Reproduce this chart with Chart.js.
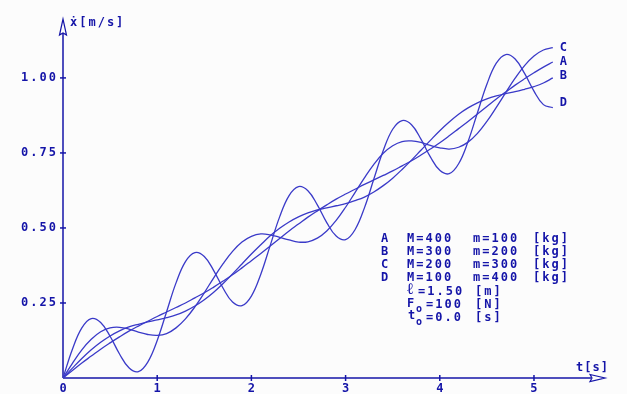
<!DOCTYPE html>
<html>
<head>
<meta charset="utf-8">
<script src="https://cdn.jsdelivr.net/npm/chart.js@4.4.1/dist/chart.umd.min.js"></script>
<style>
  html, body { margin: 0; padding: 0; background: #fcfcfc; }
  #wrap { width: 627px; height: 394px; }
</style>
</head>
<body>
<div id="wrap"><canvas id="chart" width="627" height="394"></canvas></div>
<script>
// time samples [s]
const tVals = [0,0.1,0.2,0.3,0.4,0.5,0.6,0.7,0.8,0.9,1.0,1.1,1.2,1.3,1.4,1.5,1.6,1.7,1.8,1.9,
  2.0,2.1,2.2,2.3,2.4,2.5,2.6,2.7,2.8,2.9,3.0,3.1,3.2,3.3,3.4,3.5,3.6,3.7,3.8,3.9,
  4.0,4.1,4.2,4.3,4.4,4.5,4.6,4.7,4.8,4.9,5.0,5.1,5.2];

// velocity of the cart [m/s], one list per case
const seriesA = [0,0.025,0.050,0.073,0.096,0.117,0.137,0.156,0.173,0.189,0.205,0.220,0.235,0.250,0.267,0.284,0.303,0.323,0.344,0.367,
  0.391,0.415,0.440,0.465,0.490,0.513,0.536,0.557,0.577,0.596,0.613,0.629,0.645,0.660,0.675,0.690,0.707,0.724,0.743,0.763,
  0.784,0.807,0.831,0.855,0.880,0.905,0.930,0.953,0.976,0.997,1.017,1.036,1.053];
const seriesB = [0,0.033,0.065,0.094,0.119,0.140,0.157,0.170,0.179,0.187,0.194,0.201,0.210,0.223,0.240,0.261,0.286,0.315,0.347,0.380,
  0.413,0.444,0.474,0.499,0.520,0.537,0.550,0.560,0.567,0.574,0.581,0.591,0.603,0.620,0.641,0.666,0.695,0.726,0.759,0.792,
  0.824,0.853,0.879,0.900,0.917,0.930,0.940,0.948,0.954,0.962,0.971,0.983,1.000];
const seriesC = [0,0.049,0.094,0.129,0.154,0.167,0.169,0.163,0.153,0.145,0.142,0.148,0.167,0.197,0.237,0.284,0.334,0.381,0.422,0.453,
  0.472,0.480,0.477,0.469,0.460,0.453,0.454,0.466,0.490,0.525,0.569,0.618,0.667,0.712,0.749,0.774,0.788,0.790,0.785,0.775,
  0.767,0.763,0.769,0.786,0.815,0.855,0.902,0.951,0.999,1.041,1.073,1.093,1.101];
const seriesD = [0,0.096,0.167,0.198,0.185,0.139,0.080,0.034,0.021,0.053,0.125,0.221,0.317,0.388,0.418,0.405,0.358,0.299,0.253,0.241,
  0.273,0.346,0.442,0.537,0.608,0.638,0.624,0.577,0.518,0.473,0.461,0.494,0.567,0.663,0.758,0.829,0.858,0.844,0.796,0.737,
  0.692,0.681,0.714,0.788,0.884,0.979,1.049,1.078,1.063,1.015,0.956,0.911,0.901];

const curveNames = ['A', 'B', 'C', 'D'];
const curveLabelY = [1.055, 1.008, 1.099, 0.917];   // where the end labels sit

const xTicks = [0, 1, 2, 3, 4, 5];
const yTicks = [0.25, 0.50, 0.75, 1.00];

// parameter table
const legendKeys = ['A', 'B', 'C', 'D'];
const legendBigM = [400, 300, 200, 100];
const legendSmallM = [100, 200, 300, 400];
const lengthL = '1.50';
const forceF0 = '100';
const timeT0 = '0.0';

const AXIS = '#1414a8';
const LINE = '#3a3ac8';
const FONT = 'bold 12px "DejaVu Sans Mono"';
const SMALL = 'bold 10px "DejaVu Sans Mono"';
const BIG = 'bold 16px "DejaVu Sans Mono"';

function toPoints(ys) {
  return tVals.map((t, i) => ({ x: t, y: ys[i] }));
}

function txt(ctx, s, x, y, align) {
  ctx.textAlign = align || 'left';
  ctx.fillText(s, x, y);
}

const axesPlugin = {
  id: 'axes',
  beforeDatasetsDraw(chart) {
    const ctx = chart.ctx;
    const xs = chart.scales.x, ys = chart.scales.y;
    const area = chart.chartArea;
    const x0 = xs.getPixelForValue(0), y0 = ys.getPixelForValue(0);
    ctx.save();
    ctx.strokeStyle = AXIS;
    ctx.fillStyle = AXIS;
    ctx.lineWidth = 1.5;

    // axis lines
    ctx.beginPath();
    ctx.moveTo(x0, y0);
    ctx.lineTo(area.right - 14, y0);
    ctx.moveTo(x0, y0);
    ctx.lineTo(x0, area.top + 13);
    ctx.stroke();

    // hollow arrow heads
    ctx.lineWidth = 1.2;
    ctx.fillStyle = '#fcfcfc';
    ctx.beginPath();
    ctx.moveTo(area.right - 15, y0 - 3.5);
    ctx.lineTo(area.right, y0);
    ctx.lineTo(area.right - 15, y0 + 3.5);
    ctx.lineTo(area.right - 13, y0);
    ctx.closePath();
    ctx.fill(); ctx.stroke();
    ctx.beginPath();
    ctx.moveTo(x0 - 3.5, area.top + 15);
    ctx.lineTo(x0, area.top - 1);
    ctx.lineTo(x0 + 3.5, area.top + 15);
    ctx.lineTo(x0, area.top + 13);
    ctx.closePath();
    ctx.fill(); ctx.stroke();

    // tick marks and labels
    ctx.lineWidth = 1.5;
    ctx.fillStyle = AXIS;
    ctx.font = FONT;
    ctx.letterSpacing = '2px';
    ctx.textBaseline = 'middle';
    xTicks.forEach(v => {
      const px = xs.getPixelForValue(v);
      if (v !== 0) {
        ctx.beginPath();
        ctx.moveTo(px, y0 - 3);
        ctx.lineTo(px, y0 + 3);
        ctx.stroke();
      }
      txt(ctx, String(v), px + 1, y0 + 11, 'center');
    });
    yTicks.forEach(v => {
      const py = ys.getPixelForValue(v);
      ctx.beginPath();
      ctx.moveTo(x0 - 3, py);
      ctx.lineTo(x0 + 3, py);
      ctx.stroke();
      txt(ctx, v.toFixed(2), x0 - 5, py, 'right');
    });

    // axis titles
    txt(ctx, 'ẋ[m/s]', x0 + 7, area.top + 3);
    ctx.letterSpacing = '1px';
    txt(ctx, 't[s]', area.right - 29, y0 - 10);
    ctx.restore();
  },
  afterDatasetsDraw(chart) {
    const ctx = chart.ctx;
    const xs = chart.scales.x, ys = chart.scales.y;
    ctx.save();
    ctx.fillStyle = AXIS;
    ctx.font = FONT;
    ctx.letterSpacing = '2px';
    ctx.textBaseline = 'middle';

    // curve end labels
    const xEnd = xs.getPixelForValue(tVals[tVals.length - 1]);
    curveNames.forEach((n, i) => {
      txt(ctx, n, xEnd + 7, ys.getPixelForValue(curveLabelY[i]));
    });

    // parameter table
    const rowY = [239, 252, 265, 278];
    legendKeys.forEach((k, i) => {
      txt(ctx, k, 381, rowY[i]);
      txt(ctx, 'M=' + legendBigM[i], 407, rowY[i]);
      txt(ctx, 'm=' + legendSmallM[i], 473, rowY[i]);
      txt(ctx, '[kg]', 533, rowY[i]);
    });
    txt(ctx, '=' + lengthL, 418, 292);
    txt(ctx, '[m]', 475, 292);

    txt(ctx, 'F', 407, 304);
    txt(ctx, '=' + forceF0, 426, 305);
    txt(ctx, '[N]', 475, 305);
    txt(ctx, 't', 408, 316);
    txt(ctx, '=' + timeT0, 426, 318);
    txt(ctx, '[s]', 475, 318);
    ctx.font = SMALL;
    ctx.letterSpacing = '0px';
    txt(ctx, 'o', 416, 309);
    txt(ctx, 'o', 416, 322);
    ctx.font = BIG;
    txt(ctx, 'ℓ', 407, 290);
    ctx.restore();
  }
};

const datasets = [seriesA, seriesB, seriesC, seriesD].map((s, i) => ({
  label: curveNames[i],
  data: toPoints(s),
  borderColor: LINE,
  borderWidth: 1.3,
  pointRadius: 0,
  fill: false,
  tension: 0.4
}));

new Chart(document.getElementById('chart').getContext('2d'), {
  type: 'line',
  data: { datasets: datasets },
  options: {
    responsive: false,
    animation: false,
    layout: { padding: { left: 63, right: 22, top: 20, bottom: 16 } },
    scales: {
      x: { type: 'linear', display: false, min: 0, max: 5.754 },
      y: { display: false, min: 0, max: 1.193 }
    },
    plugins: {
      legend: { display: false },
      tooltip: { enabled: false }
    }
  },
  plugins: [axesPlugin]
});
</script>
</body>
</html>
